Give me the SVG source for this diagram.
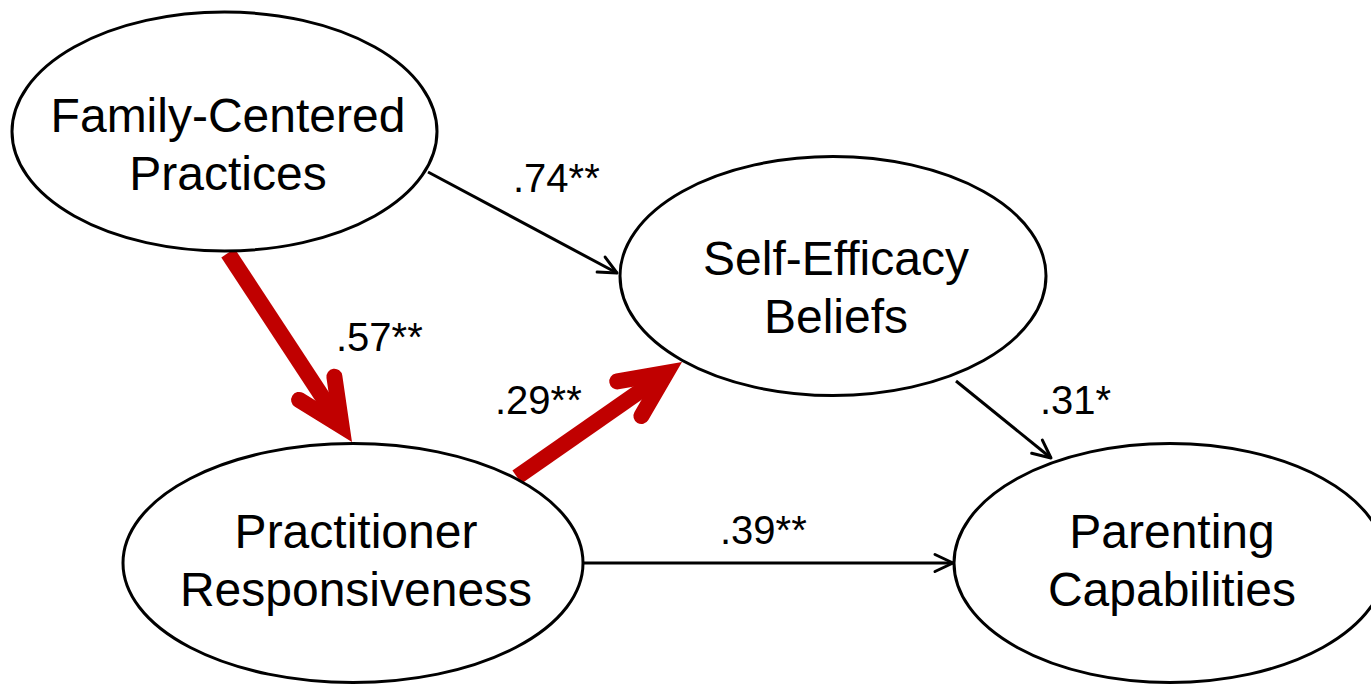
<svg xmlns="http://www.w3.org/2000/svg" width="1371" height="684" viewBox="0 0 1371 684">
  <style>
    .node { fill: #ffffff; stroke: #000000; stroke-width: 3; }
    .label { font-family: "Liberation Sans", Arial, sans-serif; font-size: 48px; fill: #000000; text-anchor: middle; }
    .coef { font-family: "Liberation Sans", Arial, sans-serif; font-size: 40px; fill: #000000; }
    .path-thin { stroke: #000000; stroke-width: 3; fill: none; marker-end: url(#head-thin); }
    .path-bold { stroke: #C00000; stroke-width: 16; fill: none; marker-end: url(#head-bold); }
  </style>
  <defs>
    <marker id="head-thin" markerUnits="userSpaceOnUse" viewBox="-22 -12 24 24" markerWidth="24" markerHeight="24" refX="0" refY="0" orient="auto" overflow="visible">
      <path d="M-18,-8.5 L0,0 L-18,8.5" fill="none" stroke="#000000" stroke-width="3" stroke-linecap="round" stroke-linejoin="round"/>
    </marker>
    <marker id="head-bold" markerUnits="userSpaceOnUse" viewBox="-60 -35 90 70" markerWidth="90" markerHeight="70" refX="0" refY="0" orient="auto" overflow="visible">
      <path d="M-45.3,-21.1 L0,0 L-45.3,21.1" fill="none" stroke="#C00000" stroke-width="16" stroke-linecap="round" stroke-linejoin="miter" stroke-miterlimit="10"/>
    </marker>
  </defs>

  <rect width="1371" height="684" fill="#ffffff"/>

  <!-- paths between constructs -->
  <g id="connectors">
    <line class="path-thin" x1="428" y1="172" x2="617" y2="273"/>
    <line class="path-thin" x1="956" y1="381" x2="1051" y2="458"/>
    <line class="path-thin" x1="583" y1="563" x2="953" y2="563"/>
    <line class="path-bold" x1="228" y1="253" x2="341.6" y2="426.2"/>
    <line class="path-bold" x1="517" y1="477" x2="666.5" y2="372.8"/>
  </g>

  <!-- path coefficients -->
  <g id="coefficients">
    <text class="coef" x="513" y="192">.74**</text>
    <text class="coef" x="336" y="351">.57**</text>
    <text class="coef" x="495" y="414">.29**</text>
    <text class="coef" x="1040" y="414">.31*</text>
    <text class="coef" x="720" y="544">.39**</text>
  </g>

  <g id="family-centered-practices">
    <ellipse class="node" cx="224.5" cy="131.5" rx="212.5" ry="119.5"/>
    <text class="label" x="228" y="132">Family-Centered</text>
    <text class="label" x="228" y="190">Practices</text>
  </g>

  <g id="self-efficacy-beliefs">
    <ellipse class="node" cx="833" cy="276" rx="213" ry="119.5"/>
    <text class="label" x="836" y="275">Self-Efficacy</text>
    <text class="label" x="836" y="333">Beliefs</text>
  </g>

  <g id="practitioner-responsiveness">
    <ellipse class="node" cx="353" cy="563" rx="230" ry="119.5"/>
    <text class="label" x="356" y="548">Practitioner</text>
    <text class="label" x="356" y="606">Responsiveness</text>
  </g>

  <g id="parenting-capabilities">
    <ellipse class="node" cx="1170" cy="563" rx="216" ry="119.5"/>
    <text class="label" x="1172" y="548">Parenting</text>
    <text class="label" x="1172" y="606">Capabilities</text>
  </g>
</svg>
